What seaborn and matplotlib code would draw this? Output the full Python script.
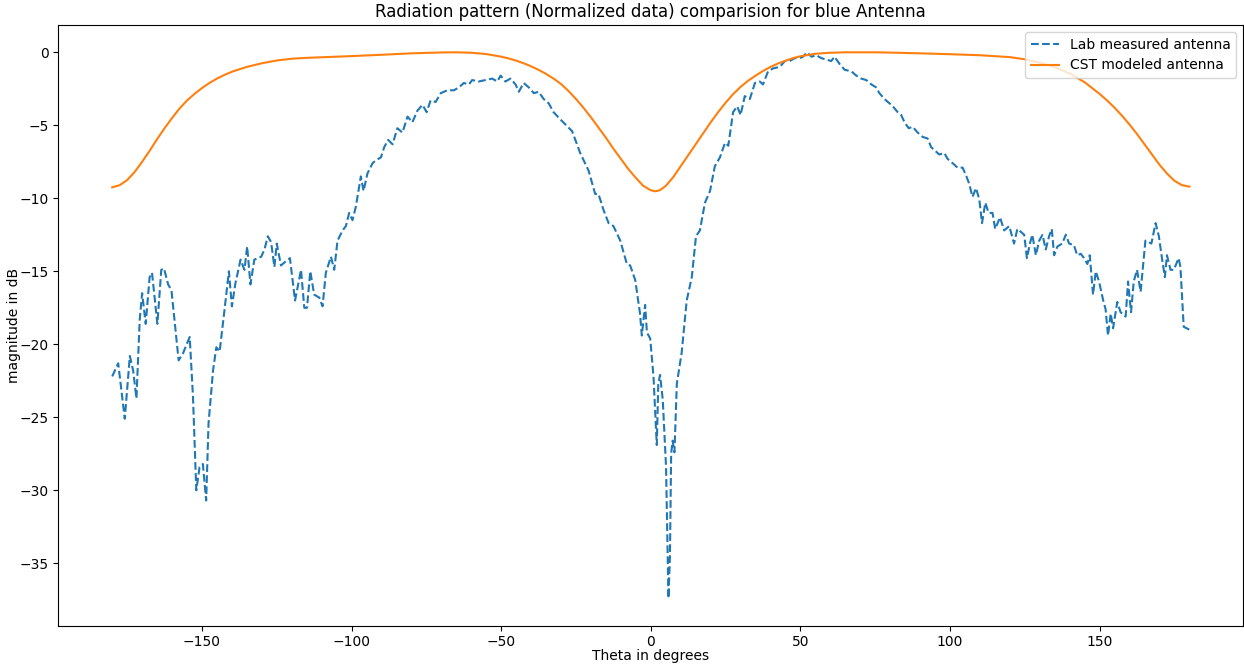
import numpy as np
import pandas as pd
import matplotlib
matplotlib.use("Agg")
import matplotlib.pyplot as plt
import seaborn as sns

lab_theta = [-180.0, -178.0, -175.8, -174.1, -173.0, -171.9, -170.8, -170.0, -168.8, -167.5,
             -166.7, -164.9, -163.6, -162.7, -161.3, -160.2, -157.8, -156.3, -154.1, -153.0,
             -151.9, -150.8, -149.7, -148.6, -147.8, -146.3, -145.2, -144.1, -142.5, -141.0,
             -140.0, -138.8, -137.1, -135.8, -134.9, -133.8, -132.5, -130.2, -129.1, -128.0,
             -126.9, -125.8, -125.0, -123.6, -121.9, -120.6, -118.9, -116.9, -115.8, -114.9,
             -113.8, -112.5, -110.8, -109.7, -108.6, -106.9, -105.8, -104.7, -103.0, -101.9,
             -100.8, -99.7, -98.6, -96.9, -96.0, -94.7, -93.0, -91.9, -90.2, -89.1,
             -87.8, -86.3, -84.7, -83.0, -81.3, -79.7, -78.0, -76.3, -74.9, -73.6,
             -71.9, -70.2, -68.0, -65.8, -64.1, -62.5, -60.8, -59.7, -57.5, -55.2,
             -53.0, -51.3, -50.2, -48.6, -46.9, -45.2, -44.1, -42.5, -40.8, -39.1,
             -37.5, -35.8, -34.1, -32.5, -30.2, -26.3, -23.6, -20.8, -18.6, -17.5,
             -15.8, -14.1, -12.5, -10.2, -8.0, -6.9, -5.2, -3.6, -3.0, -1.9,
             -1.3, -0.2, 0.9, 2.0, 2.5, 3.1, 4.0, 5.1, 5.9, 6.4,
             6.8, 7.3, 7.9, 8.7, 10.3, 12.0, 13.7, 15.1, 16.4, 18.1,
             19.8, 21.4, 23.1, 24.8, 25.9, 27.5, 28.9, 30.0, 31.4, 33.1,
             34.8, 36.4, 37.5, 39.2, 40.9, 43.1, 44.8, 46.4, 48.1, 49.8,
             50.9, 52.2, 53.7, 55.3, 57.0, 58.7, 60.3, 61.4, 63.1, 64.8,
             67.0, 68.7, 70.3, 72.0, 73.7, 75.3, 76.4, 78.1, 79.8, 80.9,
             82.5, 83.7, 84.8, 86.2, 87.5, 89.2, 90.9, 92.5, 93.7, 95.3,
             96.4, 98.1, 99.2, 100.9, 102.5, 104.2, 105.3, 106.4, 107.5, 108.7,
             109.8, 110.7, 111.8, 112.9, 114.2, 115.1, 116.7, 118.1, 119.8, 121.4,
             122.5, 123.7, 124.8, 125.7, 126.7, 127.5, 128.7, 129.8, 130.9, 132.0,
             133.1, 134.0, 134.8, 135.9, 137.5, 138.7, 139.8, 141.4, 142.5, 143.7,
             144.8, 145.9, 146.7, 147.8, 148.7, 149.8, 151.2, 152.0, 152.8, 153.7,
             154.5, 155.9, 157.0, 158.7, 159.5, 160.5, 161.4, 162.5, 163.7, 165.3,
             167.3, 168.7, 169.8, 170.9, 171.8, 172.5, 173.7, 174.8, 176.4, 177.0,
             178.1, 180.0]
lab_db = [-22.2, -21.3, -25.1, -20.8, -21.8, -23.7, -18.3, -16.5, -18.6, -15.4,
          -15.1, -18.6, -14.9, -14.8, -15.9, -16.3, -21.1, -20.6, -19.5, -23.6,
          -30.0, -28.4, -28.2, -30.7, -25.4, -21.8, -20.2, -20.5, -17.7, -15.0,
          -17.4, -15.8, -14.2, -14.9, -13.3, -15.9, -14.2, -14.0, -13.5, -12.6,
          -13.0, -14.7, -13.1, -14.6, -14.3, -14.1, -17.0, -14.9, -17.5, -17.5,
          -15.0, -16.6, -16.8, -17.4, -15.1, -14.0, -14.9, -12.9, -12.2, -11.9,
          -11.0, -11.5, -10.6, -8.5, -9.5, -8.3, -7.6, -7.4, -7.2, -6.5,
          -6.0, -6.3, -5.2, -5.5, -4.4, -4.8, -4.0, -3.6, -4.1, -3.3,
          -3.4, -2.8, -2.6, -2.6, -2.4, -2.1, -2.2, -1.9, -2.0, -1.9,
          -1.8, -2.0, -1.6, -2.0, -1.8, -2.2, -2.7, -2.1, -2.4, -2.8,
          -2.7, -3.2, -3.5, -4.1, -4.6, -5.4, -6.9, -8.1, -9.7, -9.7,
          -10.8, -11.7, -11.9, -12.9, -14.5, -14.6, -15.6, -17.9, -19.4, -17.3,
          -19.2, -19.6, -22.2, -26.9, -22.7, -22.1, -23.8, -28.4, -37.4, -34.5,
          -27.5, -26.6, -27.4, -22.7, -20.6, -17.0, -15.4, -12.6, -12.2, -10.3,
          -9.5, -7.8, -7.2, -6.2, -6.4, -4.1, -3.7, -4.3, -3.0, -3.2,
          -2.1, -2.0, -2.2, -1.3, -1.1, -1.0, -0.6, -0.6, -0.4, -0.4,
          -0.3, 0.0, -0.3, -0.2, -0.4, -0.5, -0.6, -0.3, -0.8, -1.2,
          -1.3, -1.6, -1.8, -1.9, -2.2, -2.4, -2.8, -3.2, -3.5, -3.7,
          -4.1, -4.3, -4.8, -5.2, -5.1, -5.5, -5.8, -5.9, -6.5, -6.8,
          -7.0, -6.9, -7.3, -7.6, -7.9, -7.9, -8.4, -9.0, -9.9, -9.3,
          -10.1, -11.7, -10.3, -11.0, -11.0, -12.1, -11.3, -12.2, -11.9, -13.1,
          -12.1, -12.3, -12.5, -14.1, -13.1, -12.5, -13.9, -12.9, -12.5, -13.5,
          -12.6, -12.1, -13.9, -13.3, -13.1, -12.5, -13.1, -13.2, -13.9, -13.8,
          -14.1, -14.5, -13.9, -16.6, -15.0, -15.7, -17.0, -17.6, -19.4, -17.9,
          -18.9, -17.1, -17.8, -18.1, -15.7, -17.8, -15.7, -14.9, -16.4, -12.9,
          -13.1, -11.7, -12.6, -14.2, -15.4, -13.9, -14.9, -14.9, -14.1, -14.7,
          -18.8, -19.0]

# CST simulation
cst_theta = [-180, -177.5, -175, -172.5, -170, -167.5, -165, -162.5, -160, -157.5,
             -155, -152.5, -150, -147.5, -145, -142.5, -140, -135, -130, -125,
             -120, -115, -110, -100, -90, -80, -70, -65, -60, -55,
             -50, -47.5, -45, -42.5, -40, -37.5, -35, -32.5, -30, -27.5,
             -25, -22.5, -20, -17.5, -15, -12.5, -10, -7.5, -5, -2.5,
             0, 1.5, 3, 5, 7.5, 10, 12.5, 15, 17.5, 20,
             22.5, 25, 27.5, 30, 32.5, 35, 37.5, 40, 42.5, 45,
             47.5, 50, 55, 60, 65, 70, 75, 80, 90, 100,
             110, 120, 125, 130, 135, 140, 145, 150, 152.5, 155,
             157.5, 160, 162.5, 165, 167.5, 170, 172.5, 175, 177.5, 180]
cst_db = [-9.25, -9.1, -8.75, -8.2, -7.5, -6.75, -5.95, -5.2, -4.5, -3.85,
          -3.3, -2.85, -2.45, -2.1, -1.8, -1.55, -1.33, -1.0, -0.75, -0.56,
          -0.44, -0.38, -0.34, -0.26, -0.17, -0.07, -0.01, 0.0, -0.03, -0.12,
          -0.3, -0.42, -0.57, -0.75, -0.96, -1.2, -1.48, -1.8, -2.17, -2.65,
          -3.2, -3.8, -4.45, -5.15, -5.85, -6.6, -7.3, -8.0, -8.6, -9.15,
          -9.45, -9.52, -9.45, -9.15, -8.55, -7.8, -7.05, -6.3, -5.55, -4.8,
          -4.1, -3.45, -2.87, -2.37, -1.95, -1.6, -1.28, -1.0, -0.77, -0.58,
          -0.4, -0.27, -0.1, -0.03, 0.0, 0.0, 0.0, -0.02, -0.07, -0.13,
          -0.2, -0.33, -0.48, -0.7, -1.02, -1.45, -2.05, -2.85, -3.3, -3.8,
          -4.35, -4.95, -5.6, -6.3, -7.0, -7.7, -8.3, -8.8, -9.1, -9.2]

lab = pd.DataFrame({"theta": lab_theta, "db": lab_db})
cst = pd.DataFrame({"theta": cst_theta, "db": cst_db})

fig = plt.figure(figsize=(12.44, 6.65), dpi=100)
ax = fig.add_subplot(111)
fig.subplots_adjust(left=0.0469, right=0.9994, top=0.9624, bottom=0.0592)

sns.lineplot(data=lab, x="theta", y="db", ax=ax, color="#1f77b4", linestyle="--",
             linewidth=1.5, label="Lab measured antenna")
sns.lineplot(data=cst, x="theta", y="db", ax=ax, color="#ff7f0e",
             linewidth=1.5, label="CST modeled antenna")

ax.set_title("Radiation pattern (Normalized data) comparision for blue Antenna")
ax.set_xlabel("Theta in degrees", labelpad=0)
ax.set_ylabel("magnitude in dB", labelpad=-1)
ax.set_xticks([-150, -100, -50, 0, 50, 100, 150])
ax.legend(loc="upper right")

fig.savefig("out.png", dpi=100)
